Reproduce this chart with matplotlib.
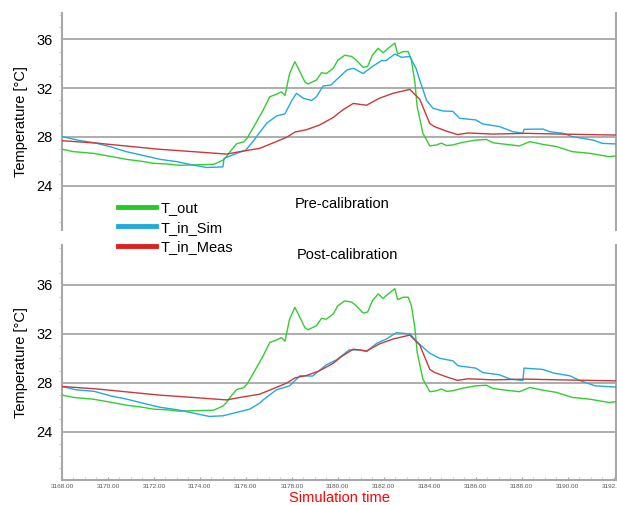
import matplotlib
matplotlib.use("Agg")
import matplotlib.pyplot as plt
from matplotlib.lines import Line2D
from matplotlib.ticker import MultipleLocator, FormatStrFormatter

plt.rcParams['font.family'] = ['Liberation Sans', 'DejaVu Sans']

# ---- data ----
t_out = [3168.0, 3168.5, 3169.36, 3170.0, 3170.8, 3171.5, 3172.0, 3172.5, 3173.1, 3173.8,
         3174.6, 3175.0, 3175.16, 3175.35, 3175.6, 3175.9, 3176.05, 3176.3, 3176.75, 3177.04,
         3177.33, 3177.55, 3177.7, 3177.9, 3178.13, 3178.35, 3178.57, 3178.7, 3179.07, 3179.29,
         3179.5, 3179.8, 3180.0, 3180.3, 3180.6, 3180.8, 3181.1, 3181.3, 3181.5, 3181.75,
         3181.97, 3182.19, 3182.48, 3182.6, 3182.84, 3183.06, 3183.2, 3183.35, 3183.45, 3183.7,
         3184.0, 3184.3, 3184.5, 3184.73, 3185.0, 3185.45, 3186.0, 3186.46, 3186.75, 3187.3,
         3187.9, 3188.35, 3188.9, 3189.5, 3190.2, 3190.96, 3191.8, 3192.1]
T_out = [27.0, 26.8, 26.66, 26.45, 26.17, 26.0, 25.84, 25.8, 25.68, 25.72,
         25.76, 26.1, 26.4, 26.9, 27.45, 27.6, 27.9, 28.7, 30.2, 31.3,
         31.5, 31.7, 31.4, 33.2, 34.17, 33.35, 32.5, 32.34, 32.67, 33.27,
         33.2, 33.63, 34.3, 34.7, 34.6, 34.3, 33.7, 33.8, 34.7, 35.27,
         34.9, 35.27, 35.7, 34.8, 35.0, 35.0, 34.3, 32.5, 30.5, 28.3,
         27.27, 27.35, 27.5, 27.3, 27.35, 27.57, 27.75, 27.8, 27.53, 27.4,
         27.27, 27.62, 27.4, 27.22, 26.8, 26.66, 26.39, 26.45]

t_meas = [3168.0, 3169.5, 3170.8, 3172.2, 3173.7, 3175.16, 3175.74, 3176.6, 3177.2, 3177.77,
          3178.13, 3178.64, 3179.2, 3179.8, 3180.2, 3180.67, 3181.25, 3181.8, 3182.4, 3183.13,
          3183.56, 3184.0, 3184.2, 3184.7, 3185.2, 3185.67, 3186.75, 3188.2, 3189.65, 3192.1]
T_meas = [27.7, 27.5, 27.26, 27.0, 26.8, 26.6, 26.8, 27.07, 27.53, 27.97,
          28.4, 28.6, 28.98, 29.6, 30.2, 30.75, 30.6, 31.17, 31.58, 31.9,
          31.1, 29.1, 28.85, 28.5, 28.2, 28.33, 28.24, 28.3, 28.24, 28.16]

t_sim_pre = [3168.0, 3168.8, 3169.4, 3170.1, 3170.8, 3171.5, 3172.26, 3173.0, 3173.7, 3174.3,
             3175.0, 3175.05, 3175.6, 3176.0, 3176.3, 3176.9, 3177.33, 3177.7, 3178.0, 3178.2,
             3178.5, 3178.86, 3179.07, 3179.36, 3179.7, 3180.0, 3180.4, 3180.67, 3181.1, 3181.5,
             3181.9, 3182.1, 3182.48, 3182.77, 3183.13, 3183.4, 3183.56, 3183.86, 3184.14, 3184.58,
             3185.0, 3185.3, 3186.0, 3186.3, 3187.04, 3187.6, 3188.05, 3188.1, 3188.93, 3189.2,
             3189.8, 3190.2, 3191.1, 3191.5, 3192.1]
T_sim_pre = [28.03, 27.7, 27.53, 27.2, 26.8, 26.5, 26.17, 25.98, 25.7, 25.5,
             25.55, 26.25, 26.66, 26.93, 27.62, 29.12, 29.72, 29.9, 31.0, 31.58,
             31.17, 31.0, 31.3, 32.18, 32.26, 32.8, 33.5, 33.63, 33.2, 33.77,
             34.26, 34.26, 34.8, 34.53, 34.6, 33.63, 32.67, 31.0, 30.35, 30.13,
             30.1, 29.53, 29.4, 29.07, 28.85, 28.44, 28.3, 28.63, 28.65, 28.44,
             28.3, 28.03, 27.75, 27.48, 27.43]

t_sim_post = [3168.0, 3168.6, 3169.4, 3170.1, 3170.8, 3171.5, 3172.26, 3173.0, 3173.7, 3174.4,
              3175.0, 3175.6, 3176.17, 3176.6, 3176.75, 3177.33, 3177.9, 3178.35, 3178.9, 3179.5,
              3179.94, 3180.5, 3180.96, 3181.25, 3181.7, 3182.1, 3182.55, 3183.13, 3183.5, 3184.0,
              3184.43, 3185.0, 3185.23, 3186.0, 3186.3, 3187.04, 3187.5, 3188.05, 3188.1, 3188.9,
              3189.4, 3190.1, 3190.5, 3191.2, 3192.1]
T_sim_post = [27.7, 27.43, 27.3, 26.94, 26.67, 26.34, 26.0, 25.8, 25.53, 25.25,
              25.3, 25.58, 25.85, 26.34, 26.6, 27.43, 27.75, 28.57, 28.55, 29.47,
              29.88, 30.69, 30.69, 30.56, 31.24, 31.57, 32.1, 32.0, 31.24, 30.42,
              30.0, 29.8, 29.39, 29.2, 28.84, 28.65, 28.3, 28.19, 29.2, 29.1,
              28.79, 28.57, 28.2, 27.75, 27.65]

y_ticks = [24, 28, 32, 36]
x_ticks = [3168, 3170, 3172, 3174, 3176, 3178, 3180, 3182, 3184, 3186, 3188, 3190, 3192]
labels = ['T_out', 'T_in_Sim', 'T_in_Meas']
panel_titles = ['Pre-calibration', 'Post-calibration']

c_out = '#33cc33'
c_sim = '#22aadd'
c_meas = '#c83a3a'
grid_c = '#a0a0a0'
spine_c = '#a8a8a8'

fig = plt.figure(figsize=(6.17, 5.05), dpi=100)
ax1 = fig.add_axes([62/617, 1-230/505, 554/617, 217/505])
ax2 = fig.add_axes([62/617, 1-480/505, 554/617, 235/505])

for ax, tsim, Tsim, ylim in [(ax1, t_sim_pre, T_sim_pre, (20.38, 38.16)),
                             (ax2, t_sim_post, T_sim_post, (20.05, 39.27))]:
    ax.set_xlim(3168, 3192.1)
    ax.set_ylim(*ylim)
    ax.set_yticks(y_ticks)
    ax.yaxis.set_minor_locator(MultipleLocator(1))
    for y in y_ticks:
        ax.axhline(y, color=grid_c, lw=1.2, zorder=1)
    ax.plot(t_out, T_out, color=c_out, lw=1.0, zorder=3)
    ax.plot(tsim, Tsim, color=c_sim, lw=1.0, zorder=3)
    ax.plot(t_meas, T_meas, color=c_meas, lw=1.0, zorder=3)
    ax.spines['top'].set_visible(False)
    for s in ['left', 'right', 'bottom']:
        ax.spines[s].set_color(spine_c)
        ax.spines[s].set_linewidth(1.5)
    ax.tick_params(axis='y', which='major', length=0, pad=7, labelsize=10.5)
    ax.tick_params(axis='y', which='minor', length=2, color='#cccccc', direction='out')
    ax.tick_params(axis='y', which='both', right=False)
    ax.set_ylabel('Temperature [°C]', fontsize=10.5, labelpad=6)

ax1.spines['bottom'].set_visible(False)
ax1.tick_params(axis='x', which='both', bottom=False, labelbottom=False)

ax2.set_xticks(x_ticks)
ax2.xaxis.set_major_formatter(FormatStrFormatter('%.2f'))
ax2.xaxis.set_minor_locator(MultipleLocator(0.5))
ax2.tick_params(axis='x', which='major', length=2.5, direction='in', color=spine_c,
                labelsize=4.6, labelcolor='#555555', pad=3)
ax2.tick_params(axis='x', which='minor', length=2, direction='in', color='#c8c8c8')
ax2.set_xlabel('Simulation time', color='red', fontsize=10.5, labelpad=1)

fig.text(342/617, 1-204/505, panel_titles[0], ha='center', va='center', fontsize=10.5)
fig.text(347/617, 1-255/505, panel_titles[1], ha='center', va='center', fontsize=10.5)

handles = [Line2D([], [], color='#22cc22', lw=3.5),
           Line2D([], [], color='#22aadd', lw=3.5),
           Line2D([], [], color='#dd1f1f', lw=3.5)]
fig.legend(handles, labels, loc='upper left', bbox_to_anchor=(118/617, 1-201/505),
           frameon=False, fontsize=10.5, handlelength=2.6, handletextpad=0.3,
           labelspacing=0.38, borderpad=0, borderaxespad=0)

fig.savefig('out.png', dpi=100)
